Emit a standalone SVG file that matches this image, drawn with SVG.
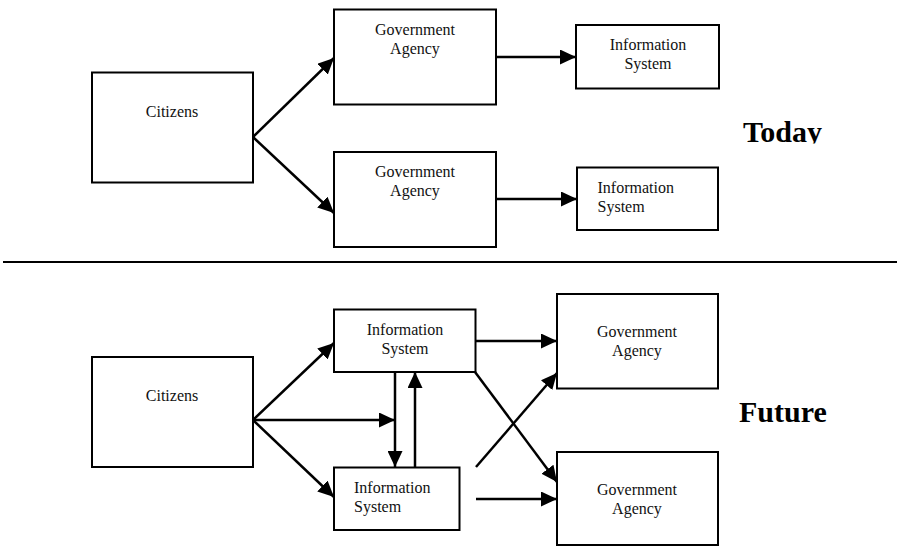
<svg xmlns="http://www.w3.org/2000/svg" width="897" height="547" viewBox="0 0 897 547">
<style>
.box{fill:#fff;stroke:#000;stroke-width:2}
.t{font-family:"Liberation Serif","Times New Roman",serif;font-size:16px;fill:#111}
.c{text-anchor:middle}
.big{font-family:"Liberation Serif","Times New Roman",serif;font-size:30px;font-weight:bold;fill:#000}
.ln{stroke:#000;stroke-width:2.5;fill:none}
</style>
<defs>
<marker id="ah" markerUnits="userSpaceOnUse" markerWidth="17" markerHeight="15" refX="16" refY="7.5" orient="auto">
<path d="M0,0 L16,7.5 L0,15 z" fill="#000"/>
</marker>
<clipPath id="clipToday"><rect x="700" y="100" width="197" height="43.5"/></clipPath>
</defs>
<rect width="897" height="547" fill="#fff"/>

<g id="connectors">
<line class="ln" x1="253" y1="137" x2="334" y2="58" marker-end="url(#ah)"/>
<line class="ln" x1="253" y1="137" x2="334" y2="213" marker-end="url(#ah)"/>
<line class="ln" x1="496" y1="57" x2="576" y2="57" marker-end="url(#ah)"/>
<line class="ln" x1="497" y1="199" x2="577" y2="199" marker-end="url(#ah)"/>
<line x1="3" y1="262" x2="897" y2="262" stroke="#000" stroke-width="2.2"/>
<line class="ln" x1="253" y1="420" x2="334" y2="343" marker-end="url(#ah)"/>
<line class="ln" x1="253" y1="420" x2="395" y2="420" marker-end="url(#ah)"/>
<line class="ln" x1="253" y1="420" x2="334" y2="497" marker-end="url(#ah)"/>
<line class="ln" x1="395" y1="372" x2="395" y2="467" marker-end="url(#ah)"/>
<line class="ln" x1="415" y1="467" x2="415" y2="372" marker-end="url(#ah)"/>
<line class="ln" x1="476" y1="341" x2="557" y2="341" marker-end="url(#ah)"/>
<line class="ln" x1="475" y1="372" x2="557" y2="482" marker-end="url(#ah)"/>
<line class="ln" x1="476" y1="467" x2="557" y2="373" marker-end="url(#ah)"/>
<line class="ln" x1="476" y1="499" x2="557" y2="499" marker-end="url(#ah)"/>
</g>

<g id="today-citizens">
<rect class="box" x="92" y="72.5" width="161" height="110"/>
<text class="t c" x="172" y="117">Citizens</text>
</g>
<g id="today-agency-1">
<rect class="box" x="334" y="9.5" width="162" height="95"/>
<text class="t c" x="415" y="35">Government</text>
<text class="t c" x="415" y="53.5">Agency</text>
</g>
<g id="today-agency-2">
<rect class="box" x="334" y="152" width="162" height="95"/>
<text class="t c" x="415" y="177">Government</text>
<text class="t c" x="415" y="195.5">Agency</text>
</g>
<g id="today-is-1">
<rect class="box" x="576" y="25" width="143" height="63.5"/>
<text class="t c" x="648" y="50">Information</text>
<text class="t c" x="648" y="68.5">System</text>
</g>
<g id="today-is-2">
<rect class="box" x="577" y="167.5" width="141" height="62.5"/>
<text class="t" x="597.5" y="193">Information</text>
<text class="t" x="597.5" y="211.5">System</text>
</g>
<g id="label-today">
<text class="big" x="743" y="142" clip-path="url(#clipToday)">Today</text>
</g>

<g id="future-citizens">
<rect class="box" x="92" y="357" width="161" height="110"/>
<text class="t c" x="172" y="401">Citizens</text>
</g>
<g id="future-is-1">
<rect class="box" x="334" y="309.5" width="141.5" height="62.5"/>
<text class="t c" x="405" y="335">Information</text>
<text class="t c" x="405" y="353.5">System</text>
</g>
<g id="future-is-2">
<rect class="box" x="334" y="467.5" width="125.5" height="62.5"/>
<text class="t" x="354" y="493">Information</text>
<text class="t" x="354" y="511.5">System</text>
</g>
<g id="future-agency-1">
<rect class="box" x="557" y="294" width="161" height="94.5"/>
<text class="t c" x="637" y="337">Government</text>
<text class="t c" x="637" y="355.5">Agency</text>
</g>
<g id="future-agency-2">
<rect class="box" x="557" y="452" width="161" height="93"/>
<text class="t c" x="637" y="495">Government</text>
<text class="t c" x="637" y="513.5">Agency</text>
</g>
<g id="label-future">
<text class="big" x="739" y="421.5">Future</text>
</g>
</svg>
